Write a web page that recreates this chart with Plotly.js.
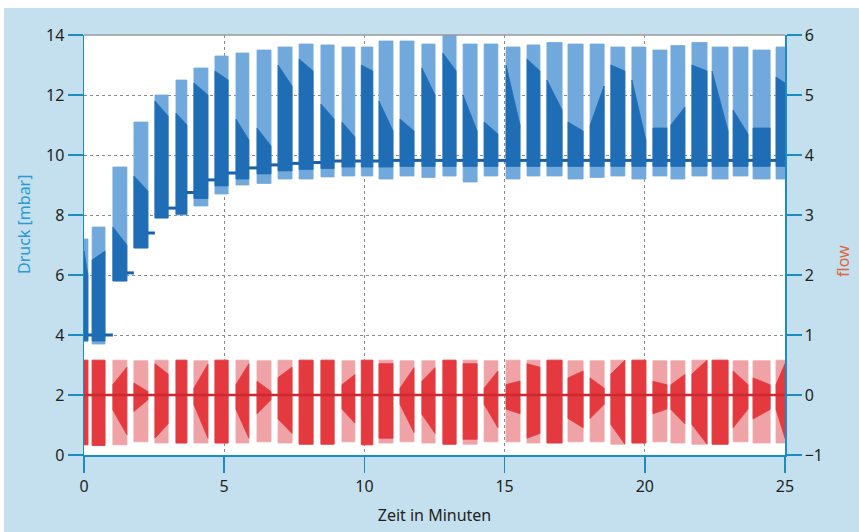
<!DOCTYPE html>
<html>
<head>
<meta charset="utf-8">
<script src="https://cdn.plot.ly/plotly-3.0.1.min.js"></script>
<style>
  html, body { margin: 0; padding: 0; background: #ffffff; }
  #chart { position: absolute; left: 4px; top: 8px; width: 855px; height: 524px; }
</style>
</head>
<body>
<div id="chart"></div>
<script>
// ---- Data (time in minutes) ----
const burstStart = [0.00, 0.29, 1.03, 1.78, 2.53, 3.28, 3.92, 4.67, 5.42, 6.17, 6.92, 7.67, 8.45, 9.20, 9.89, 10.52, 11.27, 12.05, 12.80, 13.52, 14.27, 15.05, 15.80, 16.51, 17.26, 18.05, 18.79, 19.54, 20.29, 20.93, 21.68, 22.40, 23.15, 23.86, 24.68];
const burstEnd   = [0.14, 0.75, 1.53, 2.28, 3.00, 3.67, 4.42, 5.14, 5.88, 6.67, 7.42, 8.17, 8.92, 9.66, 10.30, 11.02, 11.77, 12.52, 13.27, 14.02, 14.76, 15.55, 16.26, 17.05, 17.80, 18.55, 19.29, 20.04, 20.79, 21.43, 22.22, 22.97, 23.68, 24.47, 25.00];

// Druck [mbar]
const pressTop      = [7.2, 7.6, 9.6, 11.1, 12.0, 12.5, 12.9, 13.3, 13.4, 13.5, 13.6, 13.7, 13.67, 13.6, 13.6, 13.8, 13.8, 13.7, 14.0, 13.7, 13.7, 13.6, 13.67, 13.75, 13.7, 13.7, 13.6, 13.6, 13.5, 13.65, 13.75, 13.6, 13.6, 13.5, 13.6];
const pressBottom   = [3.8, 3.7, 5.8, 6.9, 7.9, 8.0, 8.3, 8.7, 9.0, 9.05, 9.2, 9.2, 9.27, 9.3, 9.3, 9.2, 9.3, 9.25, 9.3, 9.1, 9.3, 9.2, 9.3, 9.3, 9.2, 9.25, 9.3, 9.2, 9.3, 9.2, 9.3, 9.2, 9.3, 9.2, 9.2];
const pressDarkStart= [6.8, 6.5, 7.6, 9.3, 11.8, 11.4, 12.4, 12.8, 11.2, 10.9, 13.0, 13.2, 11.7, 11.1, 13.0, 11.8, 11.2, 12.9, 13.4, 12.0, 11.1, 13.0, 13.2, 12.5, 11.1, 11.0, 13.0, 12.5, 10.9, 11.0, 13.0, 12.8, 11.5, 10.9, 12.6];
const pressDarkEnd  = [6.0, 6.8, 7.0, 8.8, 11.3, 11.0, 12.0, 12.5, 10.5, 10.3, 12.3, 12.8, 11.2, 10.6, 12.8, 10.8, 10.8, 12.0, 12.8, 10.8, 10.7, 11.0, 12.8, 11.5, 10.8, 12.3, 12.8, 10.5, 10.9, 11.6, 12.8, 10.8, 10.7, 10.9, 12.4];
const pressPlateau  = [4.0, 4.0, 6.07, 7.4, 8.23, 8.75, 9.17, 9.4, 9.57, 9.67, 9.72, 9.75, 9.8, 9.8, 9.8, 9.82, 9.82, 9.82, 9.82, 9.82, 9.82, 9.82, 9.82, 9.82, 9.82, 9.82, 9.82, 9.82, 9.82, 9.82, 9.82, 9.82, 9.82, 9.82, 9.82];

// flow
const flowTop       = [0.58, 0.58, 0.58, 0.57, 0.58, 0.58, 0.57, 0.58, 0.58, 0.57, 0.58, 0.58, 0.58, 0.57, 0.58, 0.58, 0.57, 0.57, 0.58, 0.58, 0.57, 0.58, 0.58, 0.58, 0.57, 0.57, 0.58, 0.58, 0.57, 0.57, 0.58, 0.58, 0.57, 0.57, 0.58];
const flowBottom    = [-0.83, -0.84, -0.83, -0.78, -0.8, -0.8, -0.8, -0.8, -0.8, -0.78, -0.8, -0.82, -0.82, -0.78, -0.83, -0.8, -0.78, -0.8, -0.82, -0.82, -0.78, -0.78, -0.8, -0.8, -0.78, -0.78, -0.82, -0.8, -0.78, -0.8, -0.82, -0.82, -0.78, -0.8, -0.8];
const flowDarkStart = [1, 1, 0.3, 0.35, 0.9, 1, 0.2, 1, 0.3, 0.4, 0.5, 1, 1, 0.3, 1, 0.9, 0.2, 0.4, 1, 0.9, 0.2, 0.3, 0.9, 1, 0.5, 0.5, 0.6, 1, 0.4, 0.3, 0.6, 1, 0.7, 0.5, 0.3];
const flowDarkEnd   = [1, 1, 0.8, 0.1, 0.6, 1, 0.9, 1, 0.9, 0.1, 0.8, 1, 1, 0.6, 1, 0.9, 0.8, 0.8, 1, 0.9, 0.7, 0.4, 0.8, 1, 0.7, 0.2, 1, 1, 0.3, 0.6, 1, 1, 0.3, 0.3, 0.9];
const flowBaseline  = 0;

// axis ticks
const xTicks = [0, 5, 10, 15, 20, 25];
const yTicks = [0, 2, 4, 6, 8, 10, 12, 14];
const y2Ticks = [-1, 0, 1, 2, 3, 4, 5, 6];

// ---- Build polygons from data ----
const n = burstStart.length;
const pLightX = [], pLightY = [], pDarkX = [], pDarkY = [], pBaseX = [], pBaseY = [];
const fLightX = [], fLightY = [], fDarkX = [], fDarkY = [];
for (let i = 0; i < n; i++) {
  const s = burstStart[i], e = burstEnd[i];
  pLightX.push(s, s, e, e, s, null);
  pLightY.push(pressBottom[i], pressTop[i], pressTop[i], pressBottom[i], pressBottom[i], null);
  const prev = i === 0 ? pressPlateau[0] : pressPlateau[i - 1];
  const db = Math.max(pressBottom[i], prev - 0.2);
  pDarkX.push(s, s, e, e, s, null);
  pDarkY.push(db, pressDarkStart[i], pressDarkEnd[i], db, db, null);
  if (i < n - 1) {
    pBaseX.push(e, burstStart[i + 1], null);
    pBaseY.push(pressPlateau[i], pressPlateau[i], null);
  }
  fLightX.push(s, s, e, e, s, null);
  fLightY.push(flowBottom[i], flowTop[i], flowTop[i], flowBottom[i], flowBottom[i], null);
  fDarkX.push(s, s, e, e, s, null);
  fDarkY.push(flowDarkStart[i] * flowBottom[i], flowDarkStart[i] * flowTop[i],
              flowDarkEnd[i] * flowTop[i], flowDarkEnd[i] * flowBottom[i],
              flowDarkStart[i] * flowBottom[i], null);
}

const lightBlue = '#72a9dc', darkBlue = '#1f6db5';
const lightRed = '#f0a3a6', darkRed = '#e4393f';

const traces = [
  { x: pLightX, y: pLightY, type: 'scatter', mode: 'lines', fill: 'toself', fillcolor: lightBlue,
    line: { color: lightBlue, width: 0.8 }, hoverinfo: 'skip', showlegend: false },
  { x: pDarkX, y: pDarkY, type: 'scatter', mode: 'lines', fill: 'toself', fillcolor: darkBlue,
    line: { color: darkBlue, width: 0.8 }, hoverinfo: 'skip', showlegend: false },
  { x: pBaseX, y: pBaseY, type: 'scatter', mode: 'lines',
    line: { color: '#1a62a8', width: 3 }, hoverinfo: 'skip', showlegend: false },
  { x: fLightX, y: fLightY, type: 'scatter', mode: 'lines', fill: 'toself', fillcolor: lightRed,
    line: { color: lightRed, width: 0.8 }, yaxis: 'y2', hoverinfo: 'skip', showlegend: false },
  { x: fDarkX, y: fDarkY, type: 'scatter', mode: 'lines', fill: 'toself', fillcolor: darkRed,
    line: { color: darkRed, width: 0.8 }, yaxis: 'y2', hoverinfo: 'skip', showlegend: false },
  { x: [burstStart[0], burstEnd[n - 1]], y: [flowBaseline, flowBaseline], type: 'scatter', mode: 'lines',
    line: { color: '#cc2a30', width: 2.5 }, yaxis: 'y2', hoverinfo: 'skip', showlegend: false }
];

const axisBlue = '#1a8cc6';
const tickFont = { family: 'Noto Sans, Open Sans, sans-serif', size: 16, color: '#231f20' };

const layout = {
  width: 855, height: 524,
  margin: { l: 80, r: 74, t: 27, b: 77 },
  paper_bgcolor: '#c4e0ef',
  plot_bgcolor: '#ffffff',
  showlegend: false,
  xaxis: {
    range: [0, 25], tickmode: 'array', tickvals: xTicks, ticktext: xTicks.map(String),
    ticks: 'outside', ticklen: 16, tickwidth: 1.5, tickcolor: axisBlue,
    showline: true, linecolor: axisBlue, linewidth: 1.5,
    showgrid: true, gridcolor: '#8a8a8a', griddash: 'dot', gridwidth: 1,
    zeroline: false, tickfont: tickFont,
    title: { text: 'Zeit in Minuten', font: tickFont, standoff: 14 }
  },
  yaxis: {
    range: [0, 14], tickmode: 'array', tickvals: yTicks, ticktext: yTicks.map(String),
    ticks: 'outside', ticklen: 15, tickwidth: 1.5, tickcolor: axisBlue,
    showline: true, linecolor: axisBlue, linewidth: 1.5,
    showgrid: true, gridcolor: '#8a8a8a', griddash: 'dot', gridwidth: 1,
    zeroline: false, tickfont: tickFont
  },
  yaxis2: {
    range: [-1, 6], overlaying: 'y', side: 'right', tickmode: 'array', tickvals: y2Ticks,
    ticktext: y2Ticks.map(v => v < 0 ? '\u2212' + Math.abs(v) : String(v)),
    ticks: 'outside', ticklen: 15, tickwidth: 1.5, tickcolor: axisBlue,
    showline: true, linecolor: axisBlue, linewidth: 1.5,
    showgrid: false, zeroline: false, tickfont: tickFont
  },
  shapes: [
    { type: 'line', xref: 'paper', yref: 'paper', x0: 0, x1: 1, y0: 1, y1: 1,
      line: { color: '#9a9a9a', width: 1.5 } }
  ],
  annotations: [
    { text: 'Druck [mbar]', xref: 'paper', yref: 'paper', x: -0.0856, y: 0.55,
      textangle: -90, showarrow: false, xanchor: 'center', yanchor: 'middle',
      font: { family: 'Noto Sans, Open Sans, sans-serif', size: 16, color: '#2a9bd2' } },
    { text: 'flow', xref: 'paper', yref: 'paper', x: 1.0827, y: 0.462,
      textangle: -90, showarrow: false, xanchor: 'center', yanchor: 'middle',
      font: { family: 'Noto Sans, Open Sans, sans-serif', size: 16, color: '#e0643a' } }
  ]
};

Plotly.newPlot('chart', traces, layout, { staticPlot: true, displayModeBar: false });
</script>
</body>
</html>
